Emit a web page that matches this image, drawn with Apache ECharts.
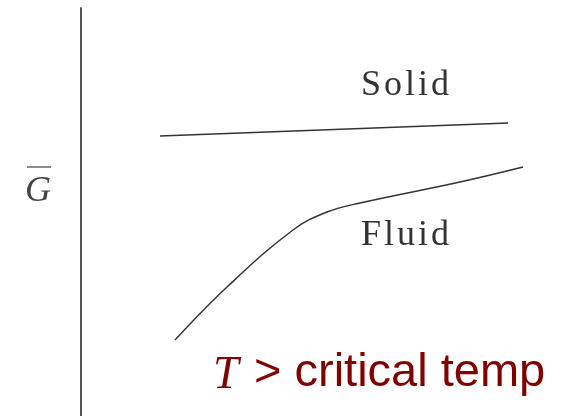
<!DOCTYPE html>
<html>
<head>
<meta charset="utf-8">
<script src="https://cdn.jsdelivr.net/npm/echarts@6/dist/echarts.min.js"></script>
<style>
  html, body { margin: 0; padding: 0; background: #fff; }
  #chart { width: 588px; height: 416px; }
</style>
</head>
<body>
<div id="chart"></div>
<script>
// schematic G-bar vs composition, arbitrary units (x right, y up)
const solidX = [79, 427]
const solidY = [280, 293]
const fluidX = [94, 146, 212, 246, 279, 379, 442]
const fluidY = [76, 129, 186, 204, 213, 234, 249]

const zip = (xs, ys) => xs.map((x, i) => [x, ys[i]])
const spaced = s => s.split('').join('\u200A')

const chart = echarts.init(document.getElementById('chart'))
chart.setOption({
  animation: false,
  grid: { left: 81, right: 0, top: 8, bottom: 0 },
  xAxis: {
    type: 'value', min: 0, max: 507,
    axisLine: { show: false }, axisTick: { show: false },
    axisLabel: { show: false }, splitLine: { show: false }
  },
  yAxis: {
    type: 'value', min: 0, max: 408,
    axisLine: { show: true, lineStyle: { color: '#555', width: 2 } },
    axisTick: { show: false }, axisLabel: { show: false },
    splitLine: { show: false }
  },
  series: [
    {
      name: 'Solid', type: 'line', data: zip(solidX, solidY),
      symbol: 'none', lineStyle: { color: '#333', width: 1.5 }
    },
    {
      name: 'Fluid', type: 'line', data: zip(fluidX, fluidY),
      symbol: 'none', smooth: 0.4,
      lineStyle: { color: '#333', width: 1.5 }
    }
  ],
  graphic: [
    { type: 'text', left: 361, top: 68, style: { text: spaced('Solid'), font: '36px "Liberation Serif"', fill: '#333' } },
    { type: 'text', left: 361, top: 218, style: { text: spaced('Fluid'), font: '36px "Liberation Serif"', fill: '#333' } },
    { type: 'text', left: 25, top: 174, style: { text: 'G', font: 'italic 36px "Liberation Serif"', fill: '#444' } },
    { type: 'line', shape: { x1: 27, y1: 167, x2: 51, y2: 167 }, style: { stroke: '#666', lineWidth: 1.5 } },
    { type: 'text', left: 213, top: 353, style: { text: 'T', font: 'italic 46px "Liberation Serif"', fill: '#800000' } },
    { type: 'text', left: 254, top: 350, style: { text: '> critical temp', font: '47px "Liberation Sans"', fill: '#800000' } }
  ]
})
</script>
</body>
</html>
